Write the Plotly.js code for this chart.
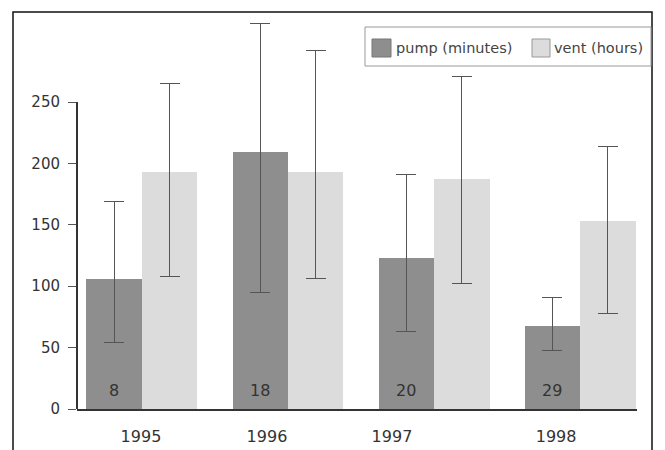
<!DOCTYPE html>
<html><head><meta charset="utf-8">
<script src="https://cdn.plot.ly/plotly-3.0.1.min.js"></script>
<style>html,body{margin:0;padding:0;background:#fff}</style>
</head><body><div id="chart" style="width:665px;height:450px"></div>
<script>
// ---- data ----
const years = ['1995', '1996', '1997', '1998'];
const groupPos = [0, 1, 2, 3];
const yearLabelPos = [-0.007, 0.856, 1.712, 2.836];
const pump = [106, 209, 123, 68];
const pumpErrPlus = [63, 105, 68, 23];
const pumpErrMinus = [52, 114, 60, 20];
const vent = [193, 193, 187, 153];
const ventErrPlus = [72, 99, 84, 61];
const ventErrMinus = [85, 87, 85, 75];
const counts = ['8', '18', '20', '29'];
const seriesNames = ['pump (minutes)', 'vent (hours)'];
const yTicks = [0, 50, 100, 150, 200, 250];

// ---- layout helpers ----
const W = 665, H = 450;
const L = 77, R = 637, T = 15, B = 409;
const px = p => (p - L) / (R - L);
const py = p => (B - p) / (B - T);
const barW = 0.38;
const pumpColor = '#8e8e8e', ventColor = '#dcdcdc';
const FONT = 'DejaVu Sans, Verdana, sans-serif';
const errStyle = {thickness: 1, width: 10, color: '#555'};

const traces = [
  {type: 'bar', name: seriesNames[0], x: groupPos, y: pump, width: barW, offset: -barW,
   marker: {color: pumpColor, line: {width: 0}}, showlegend: false,
   error_y: Object.assign({type: 'data', symmetric: false, array: pumpErrPlus, arrayminus: pumpErrMinus}, errStyle)},
  {type: 'bar', name: seriesNames[1], x: groupPos, y: vent, width: barW, offset: 0,
   marker: {color: ventColor, line: {width: 0}}, showlegend: false,
   error_y: Object.assign({type: 'data', symmetric: false, array: ventErrPlus, arrayminus: ventErrMinus}, errStyle)}
];

const annotations = counts.map((c, i) => ({
  x: groupPos[i] - barW / 2, y: 0, xref: 'x', yref: 'y', text: c, showarrow: false,
  yanchor: 'bottom', yshift: 7, font: {size: 16, color: '#333', family: FONT}
}));
annotations.push(
  {xref: 'paper', yref: 'paper', x: px(394), y: py(48), xanchor: 'left', yanchor: 'middle', text: seriesNames[0],
   showarrow: false, font: {size: 14.5, color: '#444', family: FONT}},
  {xref: 'paper', yref: 'paper', x: px(552), y: py(48), xanchor: 'left', yanchor: 'middle', text: seriesNames[1],
   showarrow: false, font: {size: 14.5, color: '#444', family: FONT}}
);

const shapes = [
  // outer frame
  {type: 'rect', xref: 'paper', yref: 'paper', x0: px(13), x1: px(652), y0: py(460), y1: py(12),
   line: {color: '#111', width: 1.5}, fillcolor: 'rgba(0,0,0,0)', layer: 'below'},
  // y axis line from 0 to 250
  {type: 'line', xref: 'paper', yref: 'y', x0: 0, x1: 0, y0: 0, y1: yTicks[yTicks.length - 1],
   line: {color: '#333', width: 2}},
  // legend box
  {type: 'rect', xref: 'paper', yref: 'paper', x0: px(365), x1: px(651), y0: py(66), y1: py(27),
   line: {color: '#999', width: 1}, fillcolor: '#fff'},
  {type: 'rect', xref: 'paper', yref: 'paper', x0: px(372), x1: px(391), y0: py(57), y1: py(39),
   line: {color: '#777', width: 1}, fillcolor: pumpColor},
  {type: 'rect', xref: 'paper', yref: 'paper', x0: px(532), x1: px(550), y0: py(57), y1: py(39),
   line: {color: '#999', width: 1}, fillcolor: ventColor}
];

const layout = {
  width: W, height: H,
  margin: {l: L, r: W - R, t: T, b: H - B, pad: 0},
  paper_bgcolor: '#fff', plot_bgcolor: '#fff',
  showlegend: false,
  font: {family: FONT, size: 16, color: '#333'},
  xaxis: {
    range: [-0.445, 3.39], tickvals: yearLabelPos, ticktext: years, ticks: '',
    showgrid: false, zeroline: false, showline: true, linecolor: '#333', linewidth: 2,
    tickfont: {size: 16, color: '#333', family: FONT}, ticklabelstandoff: 12, fixedrange: true
  },
  yaxis: {
    range: [0, (B - T) / ((B - 102) / 250)], tickvals: yTicks, ticks: 'outside', ticklen: 8,
    tickcolor: '#555', tickwidth: 1, showgrid: false, zeroline: false, showline: false,
    tickfont: {size: 15, color: '#333', family: FONT}, ticklabelstandoff: 5, fixedrange: true
  },
  bargap: 0, annotations: annotations, shapes: shapes
};

Plotly.newPlot('chart', traces, layout, {staticPlot: true, displayModeBar: false});
</script></body></html>
